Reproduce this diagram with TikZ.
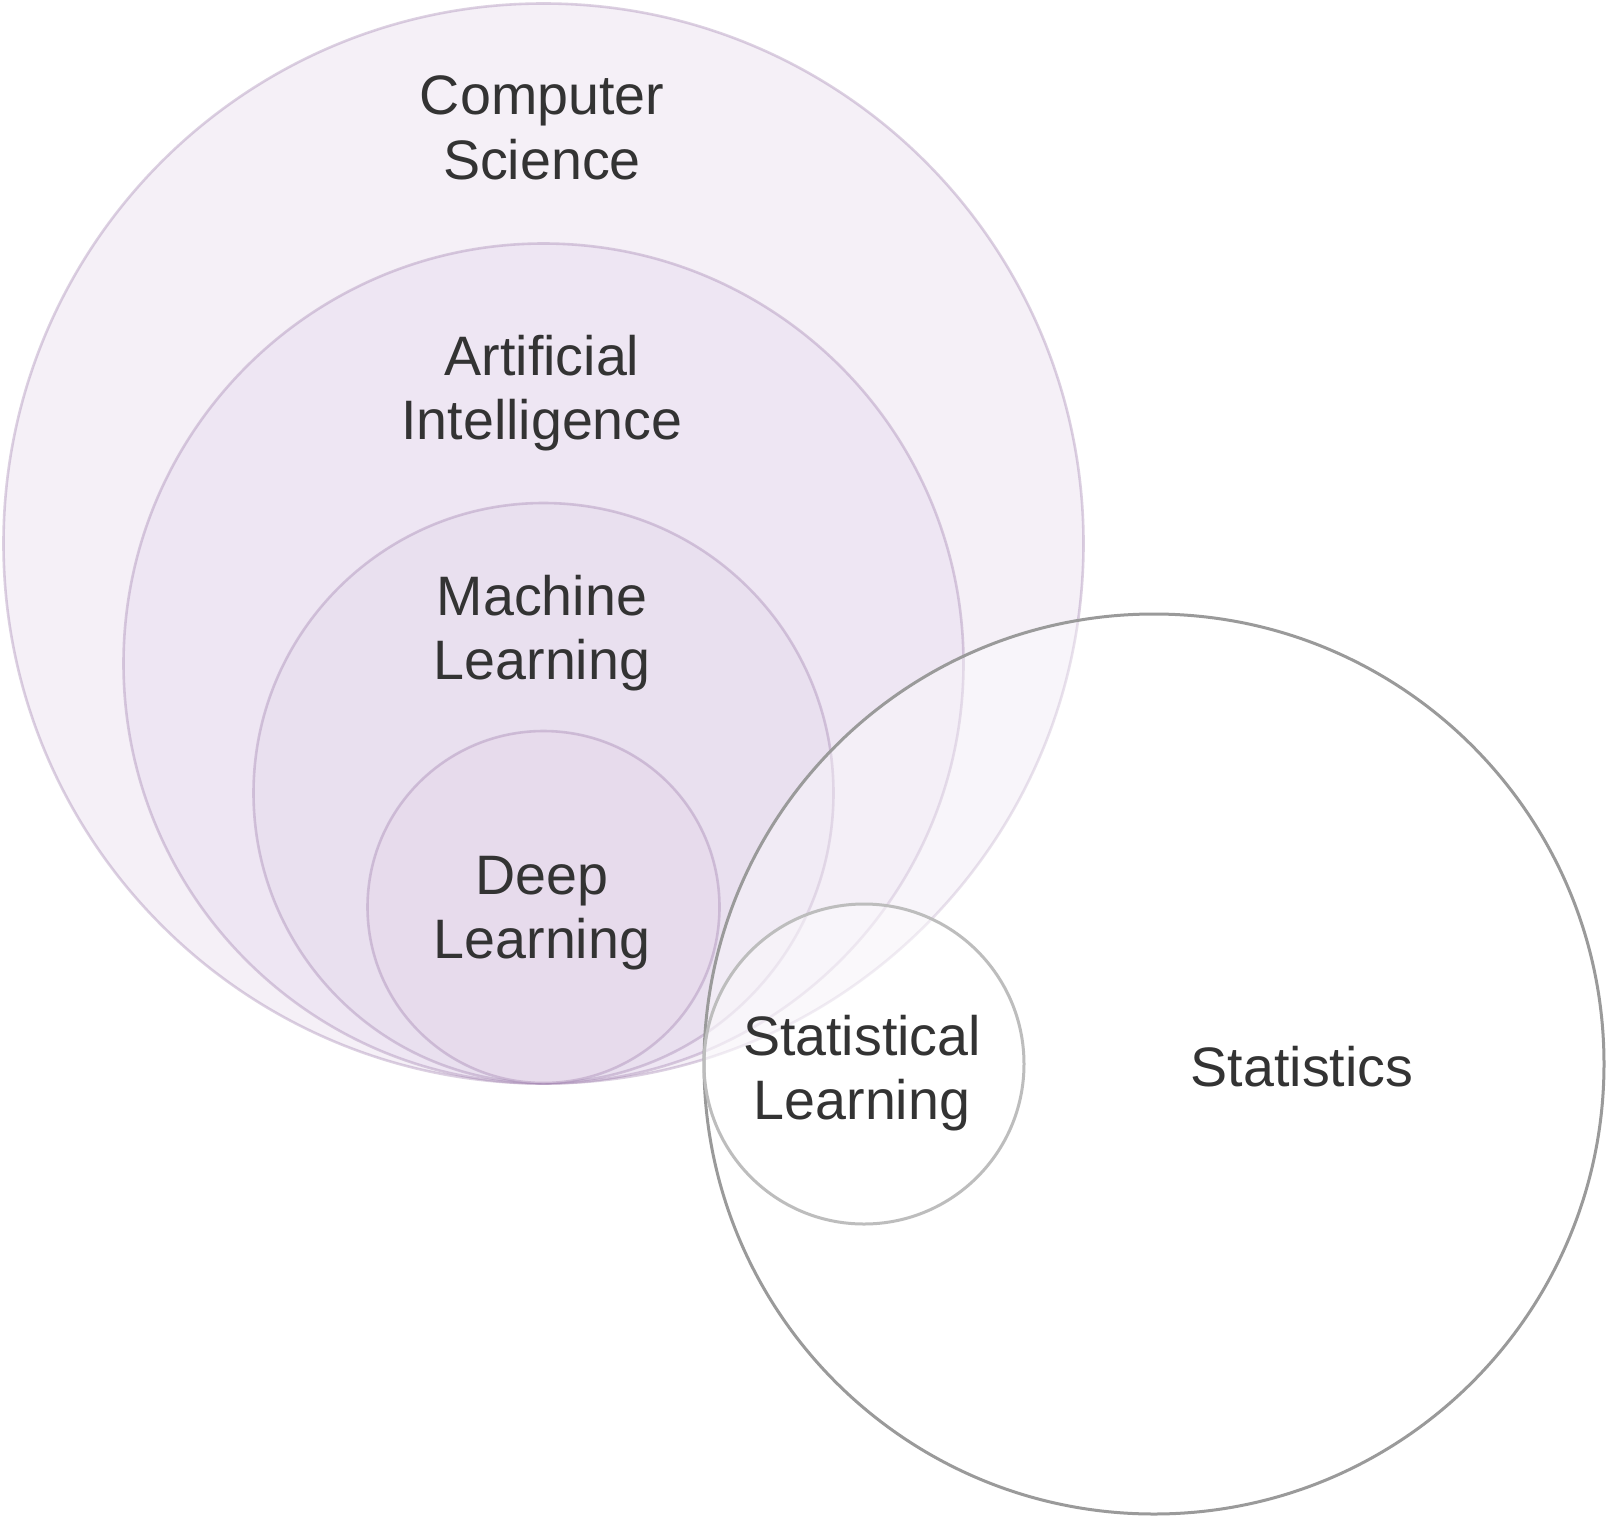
\documentclass[tikz,border=0pt]{standalone}
\usepackage{fontspec}
\setmainfont{Liberation Sans}
\begin{document}
\begin{tikzpicture}[x=1pt,y=-1pt,
  pcirc/.style={circle,draw=vio,draw opacity=0.33,line width=2.6pt,inner sep=0pt},
  gcirc/.style={circle,draw=gline,fill=white,fill opacity=0.38,line width=3pt,inner sep=0pt},
  lbl/.style={text=txt,align=center,font=\fontsize{55.6}{64.5}\selectfont,text opacity=1}]
\definecolor{vio}{HTML}{9673A6}
\definecolor{fcs}{HTML}{F5F0F7}
\definecolor{fai}{HTML}{EEE6F3}
\definecolor{fml}{HTML}{E9E0EF}
\definecolor{fdl}{HTML}{E7DBEC}
\definecolor{gline}{HTML}{9A9A9A}
\definecolor{gline2}{HTML}{BDBDBD}
\definecolor{txt}{HTML}{333333}
\useasboundingbox (0,0) rectangle (1608,1520);
\fill[white] (0,0) rectangle (1608,1520);
\node[pcirc,fill=fcs,minimum size=1080pt] (cs) at (543.5,543.5) {};
\node[pcirc,fill=fai,minimum size=840pt] (ai) at (543.5,663.5) {};
\node[pcirc,fill=fml,minimum size=580pt] (ml) at (543.5,793) {};
\node[pcirc,fill=fdl,minimum size=352pt] (dl) at (543.5,907) {};
\node[gcirc,minimum size=900pt] (st) at (1154,1064) {};
\node[gcirc,draw=gline2,minimum size=320pt] (sl) at (864,1064) {};
\node[lbl] (cst) at (542,128) {Computer\\Science};
\node[lbl] (ait) at (542,393) {Artificial\\Intelligence};
\node[lbl] (mlt) at (542,633) {Machine\\Learning};
\node[lbl] (dlt) at (542,913) {Deep\\Learning};
\node[lbl] (slt) at (862,1073) {Statistical\\Learning};
\node[lbl] (stt) at (1302,1067) {Statistics};
\end{tikzpicture}
\end{document}
